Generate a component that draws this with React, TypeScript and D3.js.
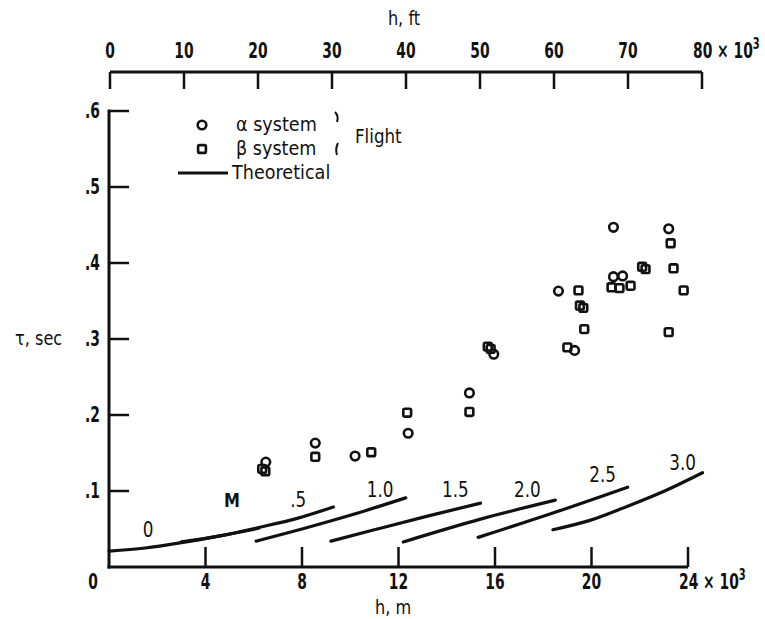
import React from "react";
import * as d3 from "d3";

// Altitude (thousands of metres) and time constant tau (sec)
const alphaH = [6.5, 8.55, 10.2, 12.4, 14.94, 15.95, 18.63, 19.3, 20.91, 20.91, 21.29, 23.2];
const alphaTau = [0.138, 0.163, 0.146, 0.176, 0.229, 0.28, 0.363, 0.285, 0.447, 0.382, 0.383, 0.445];

const betaH = [6.35, 6.48, 8.55, 10.87, 12.36, 14.94, 15.7, 15.82, 19.0, 19.46, 19.52, 19.66, 19.7,
  20.83, 21.16, 21.62, 22.1, 22.24, 23.28, 23.4, 23.82, 23.2];
const betaTau = [0.129, 0.126, 0.145, 0.151, 0.203, 0.204, 0.290, 0.287, 0.289, 0.364, 0.344, 0.341, 0.313,
  0.368, 0.367, 0.37, 0.395, 0.392, 0.426, 0.393, 0.364, 0.309];

// Theoretical curves for each Mach number: [h, tau]
const machLabels = ["0", ".5", "1.0", "1.5", "2.0", "2.5", "3.0"];
const theoryM00: [number, number][] = [[0, 0.021], [1.5, 0.025], [3.0, 0.032], [4.6, 0.041], [6.2, 0.051]];
const theoryM05: [number, number][] = [[3.0, 0.033], [4.6, 0.041], [6.2, 0.052], [7.8, 0.064], [9.3, 0.079]];
const theoryM10: [number, number][] = [[6.1, 0.034], [8.0, 0.05], [10.0, 0.068], [12.3, 0.091]];
const theoryM15: [number, number][] = [[9.2, 0.034], [11.0, 0.049], [13.2, 0.067], [15.4, 0.084]];
const theoryM20: [number, number][] = [[12.2, 0.033], [15.4, 0.063], [18.5, 0.088]];
const theoryM25: [number, number][] = [[15.3, 0.039], [18.4, 0.071], [21.5, 0.105]];
const theoryM30: [number, number][] = [[18.4, 0.049], [20.0, 0.062], [21.5, 0.080], [23.1, 0.101], [24.6, 0.124]];
const theoryCurves = [theoryM00, theoryM05, theoryM10, theoryM15, theoryM20, theoryM25, theoryM30];

// Curve label anchors in data units [h, tau]
const machLabelAt: [number, number][] = [[1.62, 0.049], [7.84, 0.088], [11.24, 0.101], [14.36, 0.101],
  [17.34, 0.101], [20.46, 0.121], [23.78, 0.137]];

const metreTicks = [0, 4, 8, 12, 16, 20, 24];
const footTicks = [0, 10, 20, 30, 40, 50, 60, 70, 80];
const tauTicks = [0.1, 0.2, 0.3, 0.4, 0.5, 0.6];

const FONT = "'DejaVu Sans', sans-serif";
const INK = "#111";

// Horizontally condensed text, anchored at (x, y)
function CText(props: {
  x: number;
  y: number;
  sx?: number;
  size?: number;
  bold?: boolean;
  anchor?: "start" | "middle" | "end";
  children: React.ReactNode;
}) {
  const { x, y, sx = 0.66, size = 21, bold = true, anchor = "start", children } = props;
  return (
    <text
      transform={`translate(${x},${y}) scale(${sx},1)`}
      fontSize={size}
      fontWeight={bold ? "bold" : "normal"}
      textAnchor={anchor}
    >
      {children}
    </text>
  );
}

export default function App() {
  const x = d3.scaleLinear().domain([0, 24]).range([109, 688]);
  const xFt = d3.scaleLinear().domain([0, 80]).range([110, 702]);
  const y = d3.scaleLinear().domain([0, 0.6]).range([567, 111]);
  const line = d3
    .line<[number, number]>()
    .x((d) => x(d[0]))
    .y((d) => y(d[1]))
    .curve(d3.curveMonotoneX);

  const topY = 72;
  const r = 4.3;
  const sq = 7.8;
  const lastFt = footTicks[footTicks.length - 1];
  const lastM = metreTicks[metreTicks.length - 1];

  return (
    <svg
      width={765}
      height={619}
      style={{ position: "absolute", left: 0, top: 0, background: "#fff" }}
    >
      <g fill={INK} style={{ fontFamily: FONT }}>
        {/* top axis: altitude in feet */}
        <CText x={404} y={25} size={19} sx={0.85} bold={false} anchor="middle">h, ft</CText>
        <line x1={xFt(0)} x2={xFt(80)} y1={topY} y2={topY} stroke={INK} strokeWidth={3} />
        {footTicks.map((t) => (
          <g key={"ft" + t}>
            <line x1={xFt(t)} x2={xFt(t)} y1={topY} y2={topY + 17} stroke={INK} strokeWidth={2.5} />
            {t !== lastFt && <CText x={xFt(t)} y={58} anchor="middle">{t}</CText>}
          </g>
        ))}
        <CText x={xFt(lastFt) - 9} y={58}>
          {lastFt} × 10<tspan dy={-9} fontSize={15}>3</tspan>
        </CText>

        {/* left axis */}
        <line x1={x(0)} x2={x(0)} y1={y(0.6) - 1.5} y2={y(0) + 1.5} stroke={INK} strokeWidth={3} />
        {tauTicks.map((t) => (
          <g key={"tau" + t}>
            <line x1={x(0)} x2={x(0) + 20} y1={y(t)} y2={y(t)} stroke={INK} strokeWidth={2.5} />
            <CText x={100} y={y(t) + 7} anchor="end">{"." + Math.round(t * 10)}</CText>
          </g>
        ))}
        <CText x={15} y={y(0.3) + 6} size={19} sx={0.85} bold={false}>τ, sec</CText>

        {/* bottom axis: altitude in metres */}
        <line x1={x(0) - 1.5} x2={x(24)} y1={y(0)} y2={y(0)} stroke={INK} strokeWidth={3} />
        {metreTicks.map((t) => (
          <g key={"m" + t}>
            {t > 0 && (
              <line x1={x(t)} x2={x(t)} y1={y(0)} y2={y(0) - 20} stroke={INK} strokeWidth={2.5} />
            )}
            {t !== lastM && (
              <CText x={t === 0 ? x(t) - 16 : x(t)} y={589} anchor="middle">{t}</CText>
            )}
          </g>
        ))}
        <CText x={x(lastM) - 9} y={589}>
          {lastM} × 10<tspan dy={-9} fontSize={15}>3</tspan>
        </CText>
        <CText x={393} y={614} size={19} sx={0.85} bold={false} anchor="middle">h, m</CText>

        {/* theoretical curves */}
        {theoryCurves.map((c, i) => (
          <path key={"th" + i} d={line(c) || ""} fill="none" stroke={INK} strokeWidth={3.2} strokeLinecap="round" />
        ))}
        {machLabels.map((l, i) => (
          <CText key={"ml" + l} x={x(machLabelAt[i][0])} y={y(machLabelAt[i][1]) + 7} size={21} sx={0.8} bold={false} anchor="middle">
            {l}
          </CText>
        ))}
        <CText x={232} y={507} size={20} sx={0.8} anchor="middle">M</CText>

        {/* flight data */}
        {alphaH.map((h, i) => (
          <circle key={"a" + i} cx={x(h)} cy={y(alphaTau[i])} r={r} fill="none" stroke={INK} strokeWidth={2.6} />
        ))}
        {betaH.map((h, i) => (
          <rect
            key={"b" + i}
            x={x(h) - sq / 2}
            y={y(betaTau[i]) - sq / 2}
            width={sq}
            height={sq}
            rx={1.5}
            fill="none"
            stroke={INK}
            strokeWidth={2.6}
          />
        ))}

        {/* legend */}
        <circle cx={202} cy={125} r={r} fill="none" stroke={INK} strokeWidth={2.6} />
        <rect x={202 - sq / 2} y={149 - sq / 2} width={sq} height={sq} rx={1.5} fill="none" stroke={INK} strokeWidth={2.6} />
        <line x1={178} x2={228} y1={173} y2={173} stroke={INK} strokeWidth={3} />
        <CText x={236} y={131} size={20} sx={0.88} bold={false}>α system</CText>
        <CText x={236} y={155} size={20} sx={0.88} bold={false}>β system</CText>
        <CText x={232} y={179} size={20} sx={0.88} bold={false}>Theoretical</CText>
        <path d="M335,112 Q339,116 337,122" fill="none" stroke={INK} strokeWidth={2} />
        <path d="M338,143 Q335,149 337,155" fill="none" stroke={INK} strokeWidth={2} />
        <CText x={355} y={143} size={19} sx={0.88} bold={false}>Flight</CText>
      </g>
    </svg>
  );
}
